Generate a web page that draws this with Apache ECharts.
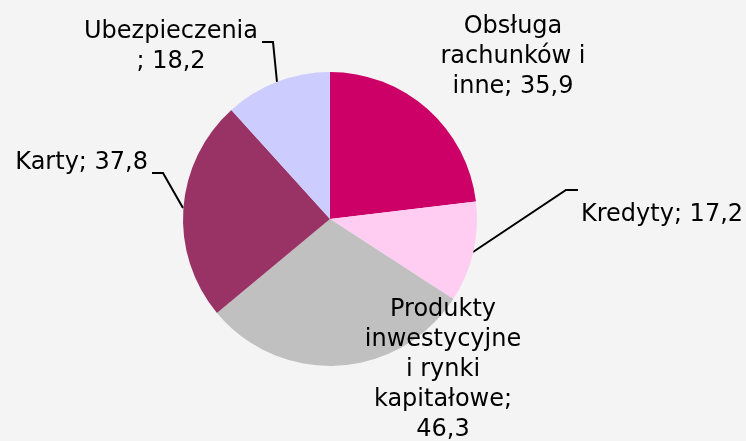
<!DOCTYPE html>
<html>
<head>
<meta charset="utf-8">
<script src="https://cdn.jsdelivr.net/npm/echarts@6/dist/echarts.min.js"></script>
<style>
  html, body { margin: 0; padding: 0; background: #f4f4f4; }
  #chart { width: 746px; height: 441px; }
</style>
</head>
<body>
<div id="chart"></div>
<script>
// dane
var categories = ['Obsługa rachunków i inne', 'Kredyty', 'Produkty inwestycyjne i rynki kapitałowe', 'Karty', 'Ubezpieczenia'];
var values = [35.9, 17.2, 46.3, 37.8, 18.2];
var colors = ['#cc0066', '#ffccf2', '#c0c0c0', '#993366', '#ccccff'];

// jak zawijać opisy (tylko wygląd)
var wrapped = [
    'Obsługa\nrachunków i\ninne; {v}',
    'Kredyty; {v}',
    'Produkty\ninwestycyjne\ni rynki\nkapitałowe;\n{v}',
    'Karty; {v}',
    'Ubezpieczenia\n; {v}'
];

// rozmieszczenie etykiet
var labelPos = [
    { x: 513, y: 57, align: 'center' },
    { x: 581, y: 215, align: 'left', line: [[473, 252], [566, 190], [578, 190]] },
    { x: 443, y: 370, align: 'center' },
    { x: 148, y: 163, align: 'right', line: [[183, 208], [163, 173], [152, 173]] },
    { x: 171, y: 47, align: 'center', line: [[277, 82], [273, 42], [262, 42]] }
];

var myChart = echarts.init(document.getElementById('chart'));

var data = categories.map(function (c, i) {
    return {
        name: c,
        value: values[i],
        itemStyle: { color: colors[i] },
        labelLine: { show: !!labelPos[i].line }
    };
});

myChart.setOption({
    backgroundColor: '#f4f4f4',
    animation: false,
    series: [{
        type: 'pie',
        center: [330, 219],
        radius: 147,
        startAngle: 90,
        clockwise: true,
        avoidLabelOverlap: false,
        data: data,
        label: {
            show: true,
            position: 'outside',
            color: '#000',
            fontFamily: 'DejaVu Sans',
            fontSize: 24,
            lineHeight: 30,
            formatter: function (p) {
                return wrapped[p.dataIndex].replace('{v}', String(p.value).replace('.', ','));
            }
        },
        labelLine: {
            show: true,
            lineStyle: { color: '#000', width: 2 }
        },
        labelLayout: function (p) {
            var lp = labelPos[p.dataIndex];
            var out = { x: lp.x, y: lp.y, align: lp.align, verticalAlign: 'middle' };
            if (lp.line) out.labelLinePoints = lp.line;
            return out;
        }
    }]
});
</script>
</body>
</html>
